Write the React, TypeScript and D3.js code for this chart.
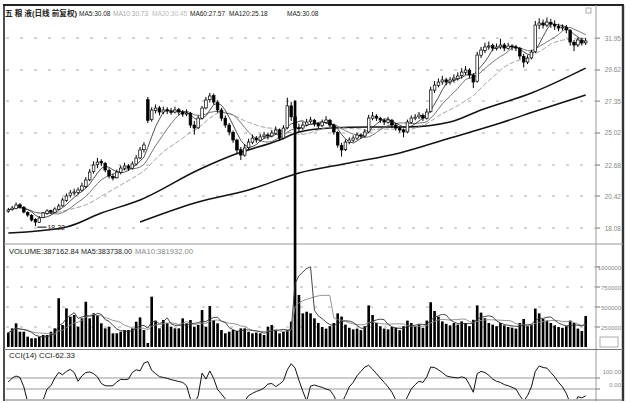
import React from 'react';
import * as d3 from 'd3';

// [open, high, low, close]
const ohlc: [number, number, number, number][] = [
  [19.30, 19.55, 19.20, 19.40], [19.42, 19.70, 19.35, 19.54], [19.50, 19.95, 19.45, 19.76], [19.78, 19.90, 19.50, 19.62],
  [19.60, 19.68, 19.15, 19.25], [19.22, 19.30, 18.90, 19.03], [19.00, 19.10, 18.55, 18.67], [18.70, 18.80, 18.22, 18.52],
  [18.50, 18.95, 18.45, 18.81], [18.85, 19.25, 18.80, 19.18], [19.15, 19.45, 19.05, 19.33], [19.35, 19.42, 19.10, 19.25],
  [19.22, 19.60, 19.18, 19.47], [19.45, 19.85, 19.40, 19.69], [19.70, 20.30, 19.65, 20.13], [20.10, 20.60, 20.00, 20.42],
  [20.45, 20.85, 20.30, 20.64], [20.70, 20.95, 20.45, 20.71], [20.68, 21.05, 20.55, 20.86], [20.85, 21.40, 20.75, 21.15],
  [21.10, 21.80, 21.00, 21.59], [21.60, 22.40, 21.50, 22.17], [22.20, 22.95, 22.05, 22.68], [22.70, 23.20, 22.45, 22.90],
  [22.95, 23.10, 22.60, 22.83], [22.80, 22.90, 22.15, 22.32], [22.30, 22.45, 21.70, 21.88], [21.85, 22.05, 21.55, 21.73],
  [21.75, 22.35, 21.70, 22.17], [22.15, 22.65, 22.00, 22.46], [22.45, 22.85, 22.30, 22.61], [22.62, 22.75, 22.25, 22.46],
  [22.45, 22.95, 22.35, 22.76], [22.75, 23.40, 22.65, 23.19], [23.20, 24.00, 23.10, 23.78], [23.80, 24.35, 23.60, 24.14],
  [27.45, 27.65, 25.75, 25.95], [26.00, 26.90, 25.85, 26.70], [26.65, 27.10, 26.45, 26.84], [26.85, 27.00, 26.30, 26.55],
  [26.55, 26.95, 26.40, 26.70], [26.72, 26.90, 26.40, 26.62], [26.60, 26.85, 26.35, 26.55], [26.55, 26.95, 26.45, 26.70],
  [26.72, 26.85, 26.30, 26.55], [26.55, 26.70, 26.20, 26.40], [26.40, 26.75, 26.25, 26.48], [26.45, 26.55, 25.40, 25.60],
  [25.60, 25.90, 24.90, 25.38], [25.40, 26.30, 25.30, 26.11], [26.10, 27.00, 26.00, 26.84], [26.85, 27.65, 26.75, 27.43],
  [27.45, 27.95, 27.25, 27.72], [27.75, 27.90, 27.10, 27.28], [27.25, 27.40, 26.50, 26.70], [26.70, 26.85, 25.90, 26.11],
  [26.10, 26.30, 25.40, 25.60], [25.60, 25.75, 24.85, 25.09], [25.05, 25.20, 24.30, 24.51], [24.50, 24.60, 23.55, 23.78],
  [23.80, 24.00, 23.05, 23.41], [23.40, 24.20, 23.30, 23.93], [23.95, 24.60, 23.80, 24.36], [24.35, 24.90, 24.20, 24.65],
  [24.65, 24.80, 24.30, 24.51], [24.50, 24.95, 24.40, 24.73], [24.75, 25.10, 24.60, 24.87], [24.88, 25.05, 24.55, 24.80],
  [24.80, 25.25, 24.70, 25.02], [25.00, 25.50, 24.90, 25.24], [25.25, 25.35, 24.45, 24.65], [24.65, 25.60, 24.55, 25.38],
  [25.40, 27.60, 25.30, 27.00], [27.00, 27.30, 25.90, 26.20], [26.20, 27.40, 24.60, 25.40], [25.40, 25.70, 25.10, 25.38],
  [25.38, 25.85, 25.25, 25.60], [25.60, 26.05, 25.50, 25.82], [25.85, 26.20, 25.70, 25.97], [25.95, 26.05, 25.50, 25.68],
  [25.70, 25.80, 25.35, 25.53], [25.55, 26.00, 25.45, 25.82], [25.80, 26.25, 25.70, 25.97], [25.95, 26.05, 25.45, 25.60],
  [25.60, 25.70, 24.90, 25.09], [25.05, 25.15, 23.95, 24.14], [24.10, 24.30, 23.30, 23.78], [23.80, 24.55, 23.70, 24.36],
  [24.35, 24.70, 24.20, 24.51], [24.50, 24.85, 24.35, 24.65], [24.65, 25.05, 24.50, 24.87], [24.88, 25.00, 24.60, 24.80],
  [24.80, 25.30, 24.70, 25.09], [25.10, 26.35, 25.00, 26.11], [26.10, 26.55, 25.95, 26.26], [26.25, 26.40, 25.90, 26.11],
  [26.10, 26.20, 25.75, 25.97], [25.95, 26.05, 25.60, 25.82], [25.80, 26.20, 25.70, 25.97], [25.95, 26.05, 25.40, 25.60],
  [25.60, 25.75, 25.20, 25.38], [25.40, 25.50, 25.05, 25.24], [25.25, 25.35, 24.70, 25.09], [25.10, 26.00, 25.00, 25.82],
  [25.80, 26.30, 25.70, 26.11], [26.10, 26.40, 25.95, 26.18], [26.20, 26.55, 26.05, 26.33], [26.30, 26.45, 25.90, 26.11],
  [26.10, 26.80, 26.00, 26.55], [26.60, 28.40, 26.50, 28.16], [28.15, 28.80, 27.95, 28.52], [28.50, 29.00, 28.35, 28.74],
  [28.75, 29.20, 28.55, 28.89], [28.90, 29.05, 28.50, 28.74], [28.75, 29.10, 28.55, 28.89], [28.90, 29.30, 28.70, 29.03],
  [29.00, 29.45, 28.85, 29.18], [29.20, 29.75, 29.00, 29.47], [29.45, 29.90, 29.25, 29.62], [29.60, 29.75, 29.00, 29.25],
  [29.25, 29.40, 28.30, 28.74], [28.80, 30.95, 28.70, 30.71], [30.70, 31.30, 30.50, 31.08], [31.05, 31.60, 30.85, 31.30],
  [31.30, 31.70, 31.10, 31.37], [31.40, 31.55, 31.00, 31.22], [31.20, 31.55, 31.05, 31.30], [31.30, 31.90, 31.15, 31.44],
  [31.45, 31.60, 31.00, 31.22], [31.20, 31.60, 31.10, 31.37], [31.38, 31.50, 31.05, 31.30], [31.30, 31.45, 31.00, 31.22],
  [31.20, 31.30, 30.40, 30.64], [30.60, 30.80, 29.80, 30.20], [30.20, 30.70, 30.05, 30.49], [30.50, 31.10, 30.40, 30.93],
  [30.95, 33.20, 30.85, 32.90], [32.90, 33.40, 32.60, 33.05], [33.05, 33.30, 32.65, 32.90], [32.90, 33.45, 32.75, 33.12],
  [33.10, 33.35, 32.70, 32.97], [32.95, 33.25, 32.55, 32.83], [32.80, 33.00, 32.45, 32.68], [32.70, 32.95, 32.50, 32.76],
  [32.75, 32.90, 32.30, 32.54], [32.50, 32.60, 31.40, 31.66], [31.65, 31.80, 31.00, 31.44], [31.45, 32.00, 31.30, 31.81],
  [31.80, 31.95, 31.40, 31.59], [31.60, 31.95, 31.45, 31.74],
];

const volumes: number[] = [
  180000, 233000, 296000, 191000, 191000, 129000, 108000, 110000, 129000, 150000,
  150000, 191000, 233000, 610000, 275000, 483000, 379000, 400000, 254000, 358000,
  566000, 358000, 421000, 400000, 296000, 233000, 254000, 171000, 171000, 191000,
  212000, 212000, 233000, 316000, 370000, 212000, 50000, 629000, 330000, 233000,
  337000, 296000, 254000, 233000, 233000, 358000, 296000, 337000, 254000, 275000,
  462000, 254000, 512000, 337000, 296000, 212000, 171000, 191000, 212000, 200000,
  233000, 233000, 191000, 171000, 180000, 171000, 150000, 254000, 275000, 212000,
  171000, 191000, 212000, 316000, 3080000, 650000, 421000, 441000, 421000, 358000,
  300000, 250000, 230000, 260000, 300000, 420000, 380000, 280000, 240000, 220000,
  230000, 210000, 260000, 520000, 400000, 300000, 260000, 230000, 220000, 250000,
  240000, 210000, 260000, 330000, 300000, 260000, 280000, 240000, 330000, 560000,
  450000, 380000, 320000, 290000, 270000, 300000, 280000, 320000, 300000, 260000,
  340000, 520000, 430000, 360000, 300000, 280000, 260000, 300000, 270000, 250000,
  240000, 230000, 300000, 350000, 260000, 280000, 480000, 420000, 350000, 330000,
  300000, 270000, 250000, 240000, 260000, 330000, 300000, 230000, 200000, 387162.84,
];

const cciValues: number[] = [
  64, 100, 118, 105, 20, -120, -150, -160, -140, -100,
  0, 30, 100, 150, 130, 160, 178, 150, 70, 120,
  150, 155, 140, 110, 50, 30, 28, 30, 64, 88,
  85, 90, 150, 175, 165, 235, 250, 170, 140, 112,
  105, 97, 85, 77, 68, 60, 30, -90, -140, -60,
  145, 90, 164, 95, -5, -45, -90, -130, -150, -160,
  -150, -110, -60, -40, -22, -10, 10, 45, 50, 22,
  45, 75, 175, 230, 190, 80, -20, -110, 27, 36,
  25, 15, 0, -10, -60, -140, -130, -60, 20, 60,
  120, 160, 200, 215, 180, 140, 100, 60, 20, -30,
  -100, -140, -150, -70, 0, 40, 70, 60, 110, 200,
  195, 175, 150, 120, 110, 105, 100, 110, 100, 40,
  -30, 140, 160, 150, 125, 90, 70, 60, 40, 30,
  15, 0, -60, -110, -60, 20, 160, 210, 195, 190,
  150, 110, 60, 20, -40, -130, -140, -70, -80, -62.33,
];

const ma60Idx = [0, 15, 24, 34, 49, 58, 70, 75, 83, 93, 103, 114, 122, 135, 149];
const ma60Val = [17.72, 18.16, 19.18, 20.13, 22.32, 23.41, 24.51, 25.09, 25.38, 25.46, 25.46, 25.82, 26.70, 27.94, 29.76];
const ma120Idx = [34, 49, 62, 75, 88, 101, 114, 127, 137, 149];
const ma120Val = [18.52, 19.98, 20.86, 22.10, 22.83, 23.56, 24.65, 25.75, 26.70, 27.79];

const priceTicks = [31.95, 29.62, 27.35, 25.02, 22.68, 20.42, 18.08];
const volumeTicks = [1000000, 750000, 500000, 250000];
const cciTicks = [100, 0];
const cciTickLabels = ['100.00', '0.00'];

const lowPrice = 18.22;
const lowIndex = 7;

const FONT = '"Liberation Sans", Arial, "Noto Sans CJK SC", sans-serif';

export default function App() {
  const n = ohlc.length;
  const x = d3.scaleBand<number>().domain(d3.range(n)).range([7, 587]).paddingInner(0.32);
  const bw = x.bandwidth();
  const cx = (i: number) => (x(i) as number) + bw / 2;
  const yP = d3.scaleLinear().domain([17.5, 34]).range([236, 10]);
  const yV = d3.scaleLinear().domain([0, 1000000]).range([347, 267]);
  const yC = d3.scaleLinear().domain([0, 100]).range([389, 378]);

  const closes = ohlc.map((d) => d[3]);
  const ma = (arr: number[], k: number) =>
    arr.map((_, i) => d3.mean(arr.slice(Math.max(0, i - k + 1), i + 1)) as number);

  const priceLine = (vals: number[]) => d3.line<number>().x((_, i) => cx(i)).y((v) => yP(v))(vals) || '';
  const volLine = (vals: number[]) => d3.line<number>().x((_, i) => cx(i)).y((v) => yV(v))(vals) || '';
  const sparseLine = (idx: number[], vals: number[]) =>
    d3.line<number>().x((_, k) => cx(idx[k])).y((v) => yP(v)).curve(d3.curveMonotoneX)(vals) || '';
  const cciLine = d3.line<number>().x((_, i) => cx(i)).y((v) => yC(v))(cciValues) || '';

  const ma5 = ma(closes, 5);
  const ma10 = ma(closes, 10);
  const ma20 = ma(closes, 20);
  const vma5 = ma(volumes, 5);
  const vma10 = ma(volumes, 10);

  const gridColor = '#aaa';

  return (
    <svg width={630} height={403} style={{ position: 'absolute', left: 0, top: 0, background: '#fff' }} fontFamily={FONT}>
      <defs>
        <clipPath id="mainClip"><rect x={4} y={6} width={592} height={238} /></clipPath>
        <clipPath id="cciClip"><rect x={4} y={351} width={592} height={48} /></clipPath>
      </defs>
      <rect x={0} y={0} width={630} height={403} fill="#fff" />

      {/* frame */}
      <line x1={3} y1={5} x2={624} y2={5} stroke="#222" strokeWidth={2} />
      <line x1={4} y1={5} x2={4} y2={401} stroke="#222" strokeWidth={1.6} />
      <line x1={623} y1={5} x2={623} y2={401} stroke="#333" strokeWidth={2.4} />
      <line x1={596} y1={5} x2={596} y2={401} stroke="#999" strokeWidth={1} />
      <line x1={4} y1={244} x2={623} y2={244} stroke="#999" strokeWidth={1} />
      <line x1={4} y1={349.5} x2={623} y2={349.5} stroke="#777" strokeWidth={1} />
      <line x1={4} y1={400} x2={623} y2={400} stroke="#777" strokeWidth={1} />

      {/* main grid */}
      {priceTicks.map((t, k) => (
        <g key={'pt' + k}>
          <line x1={6} x2={596} y1={yP(t)} y2={yP(t)} stroke={gridColor} strokeDasharray="3,11" strokeWidth={1} />
          <line x1={596} x2={600} y1={yP(t)} y2={yP(t)} stroke="#777" />
          <text x={621} y={yP(t) + 2.5} fontSize={6.5} fill="#888" textAnchor="end">{t.toFixed(2)}</text>
        </g>
      ))}

      {/* header */}
      <text x={5} y={16} fontSize={7.5} fontWeight="bold" fill="#222" textLength={72} lengthAdjust="spacingAndGlyphs">五 粮 液(日线 前复权)</text>
      <text x={79} y={16} fontSize={6.5} fill="#222">MA5:30.08</text>
      <text x={113} y={16} fontSize={6.5} fill="#aaa">MA10:30.73</text>
      <text x={152} y={16} fontSize={6.5} fill="#bbb">MA20:30.45</text>
      <text x={190} y={16} fontSize={6.5} fill="#222">MA60:27.57</text>
      <text x={229} y={16} fontSize={6.5} fill="#222">MA120:25.18</text>
      <text x={287} y={16} fontSize={6.5} fill="#222">MA5:30.08</text>
      <rect x={586} y={8} width={5} height={5} fill="none" stroke="#999" strokeWidth={0.8} />

      {/* price panel */}
      <g clipPath="url(#mainClip)">
        <path d={sparseLine(ma120Idx, ma120Val)} fill="none" stroke="#111" strokeWidth={1.5} />
        <path d={sparseLine(ma60Idx, ma60Val)} fill="none" stroke="#111" strokeWidth={1.5} />
        <path d={priceLine(ma20)} fill="none" stroke="#999" strokeWidth={0.9} strokeDasharray="5,2" />
        <path d={priceLine(ma10)} fill="none" stroke="#666" strokeWidth={0.9} />
        <path d={priceLine(ma5)} fill="none" stroke="#222" strokeWidth={0.8} />
        {ohlc.map((d, i) => {
          const [o, h, l, c] = d;
          const up = c >= o;
          const top = yP(Math.max(o, c));
          const bot = yP(Math.min(o, c));
          return (
            <g key={'c' + i}>
              <line x1={cx(i)} x2={cx(i)} y1={yP(h)} y2={yP(l)} stroke="#000" strokeWidth={1} />
              <rect x={x(i)} y={top} width={bw} height={Math.max(1, bot - top)}
                fill={up ? '#fff' : '#000'} stroke="#000" strokeWidth={0.7} />
            </g>
          );
        })}
        <line x1={cx(lowIndex) + 2} x2={cx(lowIndex) + 11} y1={yP(lowPrice) + 1} y2={yP(lowPrice) + 1} stroke="#000" />
        <text x={cx(lowIndex) + 12} y={yP(lowPrice) + 4} fontSize={7} fill="#222">{lowPrice.toFixed(2)}</text>
      </g>

      {/* volume panel */}
      {volumeTicks.map((t, k) => (
        <g key={'vt' + k}>
          <line x1={6} x2={596} y1={yV(t)} y2={yV(t)} stroke={gridColor} strokeDasharray="3,11" />
          <line x1={596} x2={600} y1={yV(t)} y2={yV(t)} stroke="#777" />
          <text x={621} y={yV(t) + 2.5} fontSize={6} fill="#888" textAnchor="end">{d3.format('d')(t)}</text>
        </g>
      ))}
      <rect x={600} y={337} width={18} height={10} fill="none" stroke="#999" strokeWidth={0.8} />
      <text x={9} y={254} fontSize={7} fill="#222" textLength={70} lengthAdjust="spacingAndGlyphs">VOLUME:387162.84</text>
      <text x={81} y={254} fontSize={7} fill="#222" textLength={51} lengthAdjust="spacingAndGlyphs">MA5:383738.00</text>
      <text x={135} y={254} fontSize={7} fill="#888" textLength={58} lengthAdjust="spacingAndGlyphs">MA10:381932.00</text>
      {volumes.map((v, i) => (
        <rect key={'v' + i} x={x(i)} y={yV(v)} width={bw} height={yV(0) - yV(v)} fill="#000" />
      ))}
      <path d={volLine(vma10)} fill="none" stroke="#888" strokeWidth={0.9} />
      <path d={volLine(vma5)} fill="none" stroke="#333" strokeWidth={0.9} />

      {/* CCI panel */}
      <text x={9} y={358} fontSize={7} fill="#222" textLength={66} lengthAdjust="spacingAndGlyphs">CCI(14) CCI-62.33</text>
      {cciTicks.map((t, k) => (
        <g key={'ct' + k}>
          <line x1={6} x2={596} y1={yC(t)} y2={yC(t)} stroke="#999" strokeWidth={1} />
          <line x1={596} x2={600} y1={yC(t)} y2={yC(t)} stroke="#777" />
          <text x={621} y={yC(t) - 2 + (k === 0 ? -2 : 0)} fontSize={6} fill="#888" textAnchor="end">{cciTickLabels[k]}</text>
        </g>
      ))}
      <g clipPath="url(#cciClip)">
        <path d={cciLine} fill="none" stroke="#111" strokeWidth={1} />
      </g>
    </svg>
  );
}
